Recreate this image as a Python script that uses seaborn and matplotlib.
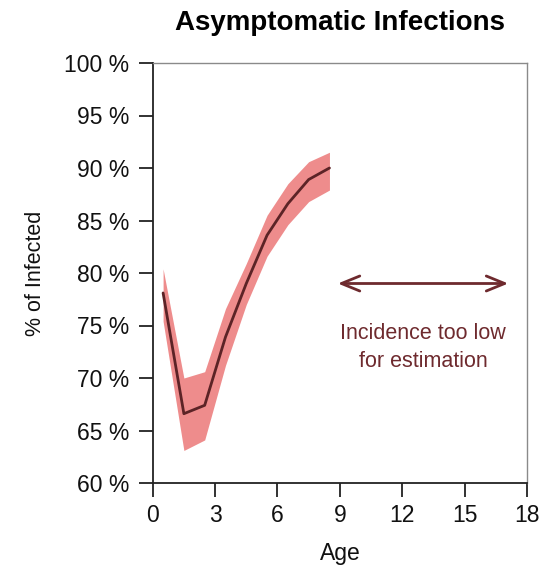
import numpy as np
import pandas as pd
import matplotlib
matplotlib.use("Agg")
import matplotlib.pyplot as plt
import seaborn as sns

# Proportion of infections that are asymptomatic, by age (years)
age = [0.5, 1.5, 2.5, 3.5, 4.5, 5.5, 6.5, 7.5, 8.5]
pct_asymptomatic = [78.1, 66.6, 67.4, 73.9, 79.0, 83.6, 86.6, 88.9, 90.0]
ci_lower = [75.4, 63.1, 64.1, 71.2, 77.0, 81.6, 84.6, 86.8, 87.9]
ci_upper = [80.4, 70.0, 70.6, 76.6, 80.9, 85.5, 88.5, 90.6, 91.5]

x_ticks = [0, 3, 6, 9, 12, 15, 18]
y_ticks = [60, 65, 70, 75, 80, 85, 90, 95, 100]
y_tick_labels = [f"{v} %" for v in y_ticks]

note_text = "Incidence too low\nfor estimation"
note_range = [8.9, 17.1]   # age span without estimates
note_level = 79.0

df = pd.DataFrame({"age": age, "pct": pct_asymptomatic,
                   "lo": ci_lower, "hi": ci_upper})

sns.set_theme(style="white")
plt.rcParams["font.family"] = ["Liberation Sans", "DejaVu Sans"]

fig = plt.figure(figsize=(5.43, 5.69), dpi=100)
ax = fig.add_axes([152.7 / 543, 1 - 483 / 569, (527 - 152.7) / 543, (483 - 63) / 569])

band_color = "#ee8c8c"
line_color = "#5c2326"
note_color = "#6e2a2e"

ax.fill_between(df["age"], df["lo"], df["hi"], color=band_color, lw=0)
sns.lineplot(data=df, x="age", y="pct", ax=ax, color=line_color, lw=2.0)

ax.annotate("", xy=(note_range[0], note_level), xytext=(note_range[1], note_level),
            arrowprops=dict(arrowstyle="<->,head_length=1.1,head_width=0.45",
                            color=note_color, lw=2.0, shrinkA=0, shrinkB=0))
ax.text(sum(note_range) / 2, 72.9, note_text, ha="center", va="center",
        color=note_color, fontsize=15.5, linespacing=1.45)

ax.set_xlim(0, 18)
ax.set_ylim(60, 100)
ax.set_xticks(x_ticks)
ax.set_xticklabels([str(t) for t in x_ticks])
ax.set_yticks(y_ticks)
ax.set_yticklabels(y_tick_labels)
ax.tick_params(axis="both", which="major", direction="out", length=10,
               width=1.3, color="#222222", labelsize=16.5, labelcolor="#111111",
               left=True, bottom=True)
ax.tick_params(axis="y", pad=7)
ax.tick_params(axis="x", pad=5)

for side in ["left", "bottom"]:
    ax.spines[side].set_color("#222222")
    ax.spines[side].set_linewidth(1.3)
for side in ["top", "right"]:
    ax.spines[side].set_color("#8a8a8a")
    ax.spines[side].set_linewidth(1.0)

ax.set_xlabel("Age", fontsize=16.5, color="#111111")
ax.set_ylabel("% of Infected", fontsize=15.5, color="#111111")
ax.xaxis.set_label_coords(0.5, -0.14)
ax.yaxis.set_label_coords(-0.285, 0.5)

fig.text(340 / 543, 1 - 23 / 569, "Asymptomatic Infections", ha="center",
         va="center", fontsize=20, fontweight="bold", color="#000000")

fig.savefig("out.png", dpi=100, facecolor="white")
